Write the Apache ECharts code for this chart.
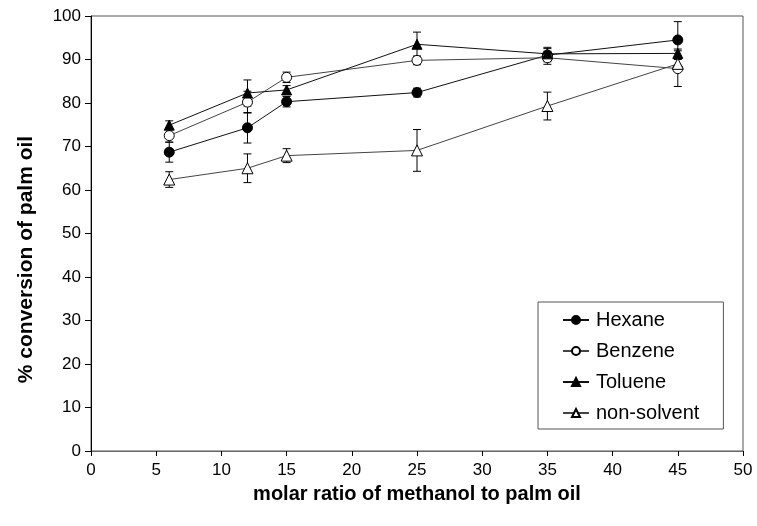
<!DOCTYPE html>
<html>
<head>
<meta charset="utf-8">
<script src="https://cdn.jsdelivr.net/npm/echarts@6/dist/echarts.min.js"></script>
<style>
html,body{margin:0;padding:0;background:#fff;}
#chart{width:757px;height:526px;}
</style>
</head>
<body>
<div id="chart"></div>
<script>
// ---- data ----
const molarRatio = [6, 12, 15, 25, 35, 45];
const seriesNames = ['Hexane', 'Benzene', 'Toluene', 'non-solvent'];
const hexane      = [68.7, 74.3, 80.3, 82.4, 91.0, 94.5];
const hexaneErr   = [2.3, 3.5, 1.2, 1.0, 1.5, 4.2];
const benzene     = [72.5, 80.2, 85.9, 89.8, 90.4, 87.9];
const benzeneErr  = [1.5, 2.5, 1.2, 1.0, 1.5, 4.1];
const toluene     = [74.9, 82.3, 83.0, 93.5, 91.3, 91.4];
const tolueneErr  = [1.0, 3.0, 1.0, 2.8, 1.5, 1.0];
const nonSolvent    = [62.4, 65.0, 67.9, 69.1, 79.3, 89.0];
const nonSolventErr = [1.8, 3.3, 1.6, 4.8, 3.2, 1.0];
const xTicks = [0, 5, 10, 15, 20, 25, 30, 35, 40, 45, 50];
const yTicks = [0, 10, 20, 30, 40, 50, 60, 70, 80, 90, 100];

const FONT = 'Liberation Sans, Arial, sans-serif';

function pts(vals) { return molarRatio.map((x, i) => [x, vals[i]]); }
function errPts(vals, errs) { return molarRatio.map((x, i) => [x, vals[i] - errs[i], vals[i] + errs[i]]); }

function errRender(params, api) {
  const x = api.value(0);
  const lo = api.coord([x, api.value(1)]);
  const hi = api.coord([x, api.value(2)]);
  const c = 4;
  const st = { stroke: '#000', lineWidth: 1 };
  return {
    type: 'group',
    children: [
      { type: 'line', shape: { x1: hi[0], y1: hi[1], x2: lo[0], y2: lo[1] }, style: st },
      { type: 'line', shape: { x1: hi[0] - c, y1: hi[1], x2: hi[0] + c, y2: hi[1] }, style: st },
      { type: 'line', shape: { x1: lo[0] - c, y1: lo[1], x2: lo[0] + c, y2: lo[1] }, style: st }
    ]
  };
}

function lineSeries(name, vals, symbol, fill, size, lineColor) {
  return {
    name: name, type: 'line', data: pts(vals),
    symbol: symbol, symbolSize: size,
    lineStyle: { color: lineColor, width: 1 },
    itemStyle: { color: fill, borderColor: '#000', borderWidth: 1 },
    z: 3
  };
}
function errSeries(vals, errs) {
  return { type: 'custom', renderItem: errRender, data: errPts(vals, errs),
           encode: { x: 0, y: [1, 2] }, z: 2, silent: true };
}

const chart = echarts.init(document.getElementById('chart'), null, { renderer: 'canvas' });
chart.setOption({
  animation: false,
  backgroundColor: '#fff',
  grid: { left: 91, right: 14, top: 16, bottom: 75, show: true, borderColor: '#555', borderWidth: 1 },
  legend: {
    data: seriesNames,
    orient: 'vertical',
    left: 538, top: 302,
    itemWidth: 26, itemHeight: 10, itemGap: 11,
    padding: [8, 24, 6, 24],
    backgroundColor: '#fff', borderColor: '#555', borderWidth: 1,
    textStyle: { fontFamily: FONT, fontSize: 20, color: '#000', padding: [0, 0, 0, 2] }
  },
  xAxis: {
    type: 'value', min: 0, max: 50, interval: 5,
    name: 'molar ratio of methanol to palm oil', nameLocation: 'middle', nameGap: 33,
    nameTextStyle: { fontFamily: FONT, fontSize: 20, fontWeight: 'bold', color: '#000' },
    axisLine: { show: true, lineStyle: { color: '#666', width: 1 } },
    axisTick: { show: true, inside: false, length: 5, lineStyle: { color: '#000' } },
    axisLabel: { fontFamily: FONT, fontSize: 17, color: '#000', margin: 11,
                 formatter: v => xTicks.includes(v) ? String(v) : '' },
    splitLine: { show: false }
  },
  yAxis: {
    type: 'value', min: 0, max: 100, interval: 10,
    name: '% conversion of palm oil', nameLocation: 'middle', nameGap: 54, nameRotate: 90,
    nameTextStyle: { fontFamily: FONT, fontSize: 21, fontWeight: 'bold', color: '#000', padding: [0, 52, 0, 0] },
    axisLine: { show: true, lineStyle: { color: '#000', width: 1 } },
    axisTick: { show: true, inside: false, length: 6, lineStyle: { color: '#000' } },
    axisLabel: { fontFamily: FONT, fontSize: 17, color: '#000', margin: 10,
                 formatter: v => yTicks.includes(v) ? String(v) : '' },
    splitLine: { show: false }
  },
  series: [
    errSeries(hexane, hexaneErr),
    errSeries(benzene, benzeneErr),
    errSeries(toluene, tolueneErr),
    errSeries(nonSolvent, nonSolventErr),
    lineSeries('Hexane', hexane, 'circle', '#000', 10, '#111'),
    lineSeries('Benzene', benzene, 'circle', '#fff', 10, '#444'),
    lineSeries('Toluene', toluene, 'triangle', '#000', 10, '#111'),
    lineSeries('non-solvent', nonSolvent, 'triangle', '#fff', 11, '#444')
  ]
});
</script>
</body>
</html>
